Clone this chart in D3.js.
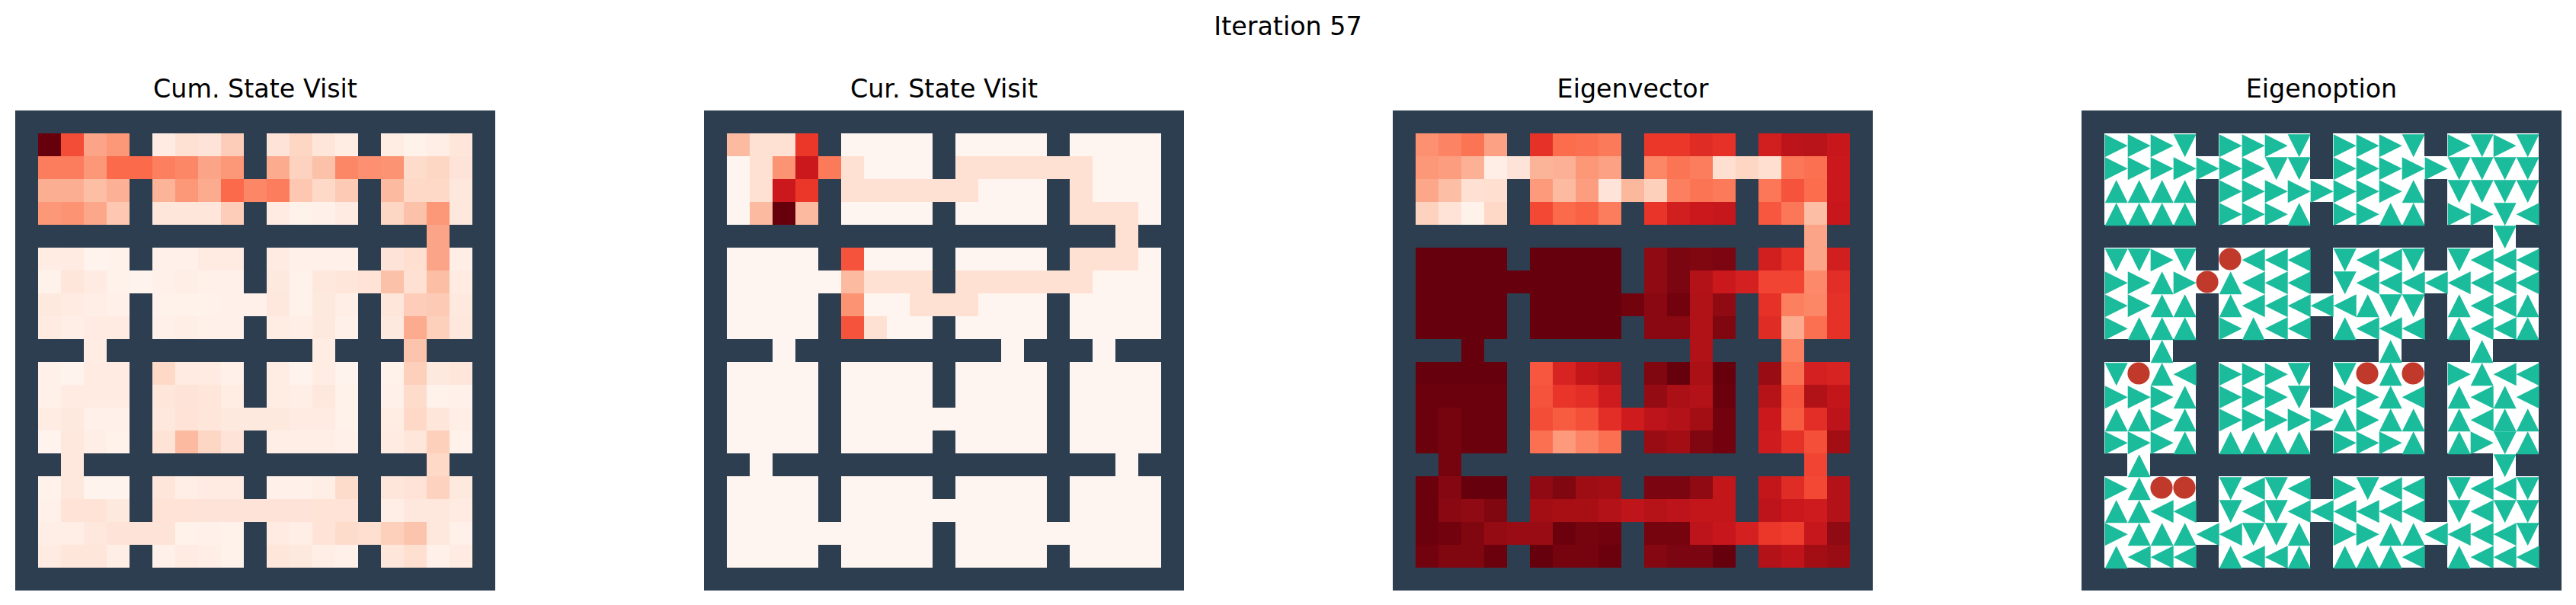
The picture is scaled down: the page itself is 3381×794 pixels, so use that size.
<!DOCTYPE html>
<html><head><meta charset="utf-8">
<style>html,body{margin:0;padding:0;background:#fff}svg{display:block}text{font-family:"DejaVu Sans",sans-serif;fill:#000}</style>
<script src="https://cdn.jsdelivr.net/npm/d3@7"></script></head>
<body><div id="chart"></div>
<script>
const figureTitle = "Iteration 57";
const panelTitles = ["Cum. State Visit", "Cur. State Visit", "Eigenvector", "Eigenoption"];
const wallMap = [
"#####################",
"#....#....#....#....#",
"#.........#.........#",
"#....#.........#....#",
"#....#....#....#....#",
"##################.##",
"#....#....#....#....#",
"#.........#.........#",
"#....#.........#....#",
"#....#....#....#....#",
"###.#########.###.###",
"#....#....#....#....#",
"#....#....#....#....#",
"#....#.........#....#",
"#....#....#....#....#",
"##.###############.##",
"#....#....#....#....#",
"#....#.........#....#",
"#.........#.........#",
"#....#....#....#....#",
"#####################"
];
// Values on the colour scale, 0 to 100, open cells only, row by row
const cumVisit = [
[100,58,32,36, 6,12,10,19, 10,16,9,5, 5,2,4,9],
[44,44,36,50,50,43,41,32,36, 30,17,23,41,38,37,14,16,10],
[29,29,24,28, 27,36,30,50,41,44,21,15,20, 25,15,15,8],
[36,37,31,21, 9,9,9,19, 6,2,3,6, 16,23,36,8],
[32],
[5,6,1,2, 3,3,6,6, 6,3,3,3, 10,13,32,4],
[2,9,6,2,1,3,4,3,3, 7,2,8,9,11,23,12,24,6],
[7,6,4,3, 2,2,2,3,3,8,2,7,4, 9,19,20,7],
[6,4,6,6, 3,4,3,3, 5,4,7,3, 7,30,18,8],
[5,5,22],
[3,1,6,6, 15,6,6,3, 5,1,5,1, 2,18,7,9],
[3,6,6,6, 9,10,9,5, 5,4,8,2, 3,14,2,3],
[5,7,3,3, 8,11,9,7,7,7,6,6,2, 5,15,9,4],
[1,8,4,2, 11,25,16,10, 4,4,4,3, 6,9,18,2],
[8,15],
[2,8,1,1, 9,4,6,6, 3,3,4,14, 9,11,17,7],
[3,11,11,7, 11,11,10,10,10,10,10,11,11, 4,8,8,6],
[4,4,8,10,10,10,2,3,2, 6,4,11,14,13,18,22,8,3],
[6,9,9,4, 3,6,4,2, 9,7,4,3, 9,13,3,6]
];
const curVisit = [
[25,12,12,64, 0,0,0,0, 0,0,0,0, 0,0,0,0],
[0,12,37,75,45,12,0,0,0, 12,12,12,12,12,12,0,0,0],
[0,12,75,64, 12,12,12,12,12,12,0,0,0, 12,0,0,0],
[0,25,100,25, 0,0,0,0, 0,0,0,0, 12,12,12,0],
[12],
[0,0,0,0, 56,0,0,0, 0,0,0,0, 12,12,12,0],
[0,0,0,0,0,25,12,12,12, 12,12,12,12,12,12,0,0,0],
[0,0,0,0, 37,0,0,12,12,12,0,0,0, 0,0,0,0],
[0,0,0,0, 56,12,0,0, 0,0,0,0, 0,0,0,0],
[0,0,0],
[0,0,0,0, 0,0,0,0, 0,0,0,0, 0,0,0,0],
[0,0,0,0, 0,0,0,0, 0,0,0,0, 0,0,0,0],
[0,0,0,0, 0,0,0,0,0,0,0,0,0, 0,0,0,0],
[0,0,0,0, 0,0,0,0, 0,0,0,0, 0,0,0,0],
[0,0],
[0,0,0,0, 0,0,0,0, 0,0,0,0, 0,0,0,0],
[0,0,0,0, 0,0,0,0,0,0,0,0,0, 0,0,0,0],
[0,0,0,0,0,0,0,0,0, 0,0,0,0,0,0,0,0,0],
[0,0,0,0, 0,0,0,0, 0,0,0,0, 0,0,0,0]
];
const eigenvector = [
[38,42,47,33, 66,49,48,45, 64,64,68,66, 73,80,81,76],
[36,34,28,4,10,27,28,36,33, 41,47,44,13,16,13,46,48,75],
[31,24,12,13, 35,25,34,10,26,18,43,47,45, 46,56,49,75],
[17,11,2,15, 59,50,52,44, 65,73,75,77, 55,46,24,76],
[32],
[100,100,100,100, 100,100,100,100, 92,96,95,96, 73,66,32,73],
[100,100,100,100,100,100,100,100,100, 92,96,83,75,72,60,60,40,67],
[100,100,100,100, 100,100,100,100,98,93,98,84,92, 66,43,41,66],
[100,100,100,100, 100,100,100,100, 93,93,84,95, 68,30,48,66],
[100,84,43],
[100,100,100,100, 55,71,78,82, 95,100,86,100, 90,48,72,71],
[99,99,99,99, 56,65,67,74, 91,86,83,99, 82,56,84,78],
[99,97,99,99, 58,54,57,67,74,80,83,88,98, 75,54,67,80],
[99,97,99,99, 48,35,42,48, 90,88,95,98, 74,66,57,88],
[97,60],
[99,94,100,100, 92,95,89,88, 96,96,92,78, 78,68,59,83],
[99,93,92,95, 88,87,87,83,79,82,80,78,78, 80,75,74,83],
[99,98,95,91,90,90,99,97,98, 97,97,80,76,72,64,62,77,92],
[98,95,95,99, 100,97,97,99, 94,96,96,100, 83,79,88,90]
];
// Policy per open cell: R L U D = direction, O = termination
const eigenoption = [
"RRRD RRRD RRRD RDRD",
"RRRRRRRDD RRRRRDDDD",
"UUUU RRRRRRRRU DDDD",
"UUUU RRRU RRUU RRDL",
"D",
"DDRD OLLL DLLD DLLL",
"RRURO ULLL DLLLLLLLL",
"RRUU ULLLLLUDD ULLU",
"RUUU RULL ULLL ULLU",
"UUU",
"DOUL RRRD DOUO RULL",
"RRRU RRRD RRUL ULUL",
"UURU RRRRRURUU ULUU",
"RRRU UUUU RRRU URDU",
"UD",
"RUOO DLDL RDLL DLLD",
"UULL DLDLLLLLL DLDD",
"RUUUL LDDU RRUULLLLD",
"ULLL ULLU UUUL ULLL"
];
const redsStops = ["#fff5f0","#fee0d2","#fcbba1","#fc9272","#fb6a4a","#ef3b2c","#cb181d","#a50f15","#67000d"];
const wallColor = "#2c3e50", arrowColor = "#1abc9c", doneColor = "#c0392b";

const W = 3381, H = 794;
const svg = d3.select("#chart").append("svg").attr("width", W).attr("height", H).attr("viewBox", [0,0,W,H]);
svg.append("text").attr("x", 1690.5).attr("y", 46).attr("text-anchor","middle").attr("font-size", 33.33).text(figureTitle);

const color = d3.scaleLinear().domain(redsStops.map((_,i)=>i*100/8)).range(redsStops).interpolate(d3.interpolateRgb).clamp(true);
const indices = d3.range(21);
const panelX = d3.scalePoint().domain(d3.range(4)).range([20, 2732]);
const cols = d3.scaleBand().domain(indices).range([0,630]);
const rows = d3.scaleBand().domain(indices).range([0,630]);

function openCells(values){
  const out = []; const rowsWithOpen = indices.filter(r => wallMap[r].includes("."));
  rowsWithOpen.forEach((r,ri) => {
    let k = 0; const vals = values[ri];
    for (let c=0;c<21;c++) if (wallMap[r][c]===".") out.push({r,c,v:vals[k++]});
  });
  return out;
}
const triangle = d3.line();
function triPoints(d){
  const b = cols.bandwidth(), x0 = cols(d.c)+0.7, y0 = rows(d.r)+1.2, x1=x0+b, y1=y0+b, xm=x0+b/2, ym=y0+b/2;
  return {R:[[x0,y0],[x1,ym],[x0,y1]], L:[[x1,y0],[x0,ym],[x1,y1]], U:[[xm,y0],[x1,y1],[x0,y1]], D:[[x0,y0],[x1,y0],[xm,y1]]}[d.v];
}
const heat = [cumVisit, curVisit, eigenvector];
panelTitles.forEach((t,i) => {
  const g = svg.append("g").attr("transform", `translate(${panelX(i)},145)`);
  svg.append("text").attr("x", panelX(i)+315).attr("y", 128).attr("text-anchor","middle").attr("font-size", 33.33).text(t);
  g.append("rect").attr("width",630).attr("height",630).attr("fill",wallColor);
  if (i<3) {
    g.selectAll("rect.c").data(openCells(heat[i])).join("rect").attr("class","c")
      .attr("x",d=>cols(d.c)).attr("y",d=>rows(d.r)).attr("width",cols.bandwidth()).attr("height",rows.bandwidth())
      .attr("shape-rendering","crispEdges").attr("fill",d=>color(d.v));
  } else {
    const cells = openCells(eigenoption.map(s=>s.replace(/ /g,"")));
    g.selectAll("rect.c").data(cells).join("rect").attr("class","c")
      .attr("x",d=>cols(d.c)).attr("y",d=>rows(d.r)).attr("width",cols.bandwidth()).attr("height",rows.bandwidth())
      .attr("shape-rendering","crispEdges").attr("fill","#fff");
    g.selectAll("path.a").data(cells.filter(d=>d.v!=="O")).join("path").attr("class","a")
      .attr("d",d=>triangle(triPoints(d))+"Z").attr("fill",arrowColor);
    g.selectAll("circle.o").data(cells.filter(d=>d.v==="O")).join("circle").attr("class","o")
      .attr("cx",d=>cols(d.c)+cols.bandwidth()/2).attr("cy",d=>rows(d.r)+rows.bandwidth()/2).attr("r",14.6).attr("fill",doneColor);
  }
});
</script></body></html>
